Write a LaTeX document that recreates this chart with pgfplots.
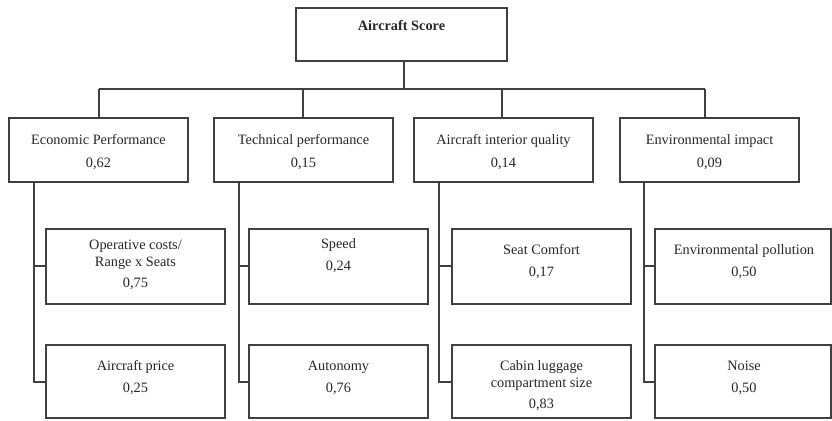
\documentclass[border=0pt]{standalone}
\usepackage{pgfplots}
\pgfplotsset{compat=1.18}
\usepackage{fontspec}
\setmainfont{Liberation Serif}
\begin{document}
\begin{tikzpicture}
\tikzset{bx/.style={draw=black!75, line width=0.9pt},
  t/.style={anchor=base, inner sep=0pt, font=\fontsize{7.15}{8.5}\selectfont, text=black!85}}
\begin{axis}[scale only axis, width=416pt, height=210pt,
  xmin=0, xmax=832, ymin=0, ymax=420, y dir=reverse, hide axis, clip=false]
\path (axis cs:0,0) rectangle (axis cs:832,420);
% top box
\draw[bx] (axis cs:296,8) rectangle (axis cs:507,61);
\node[t] at (axis cs:401.5,30) {\bfseries Aircraft Score};
% connectors from top
\draw[bx] (axis cs:404,61) -- (axis cs:404,89);
\draw[bx] (axis cs:99,89) -- (axis cs:705,89);
\draw[bx] (axis cs:99,89) -- (axis cs:99,118);
\draw[bx] (axis cs:303,89) -- (axis cs:303,118);
\draw[bx] (axis cs:502,89) -- (axis cs:502,118);
\draw[bx] (axis cs:705,89) -- (axis cs:705,118);
% level 2 boxes
\draw[bx] (axis cs:9,118) rectangle (axis cs:188,182);
\draw[bx] (axis cs:214,118) rectangle (axis cs:393,182);
\draw[bx] (axis cs:414,118) rectangle (axis cs:593,182);
\draw[bx] (axis cs:620,118) rectangle (axis cs:799,182);
\node[t] at (axis cs:98.5,144) {Economic Performance};
\node[t] at (axis cs:98.5,167) {0,62};
\node[t] at (axis cs:303.5,144) {Technical performance};
\node[t] at (axis cs:303.5,167) {0,15};
\node[t] at (axis cs:503.5,144) {Aircraft interior quality};
\node[t] at (axis cs:503.5,167) {0,14};
\node[t] at (axis cs:709.5,144) {Environmental impact};
\node[t] at (axis cs:709.5,167) {0,09};
% vertical connectors to level 3
\draw[bx] (axis cs:34,182) -- (axis cs:34,382) -- (axis cs:46,382);
\draw[bx] (axis cs:34,266) -- (axis cs:46,266);
\draw[bx] (axis cs:239,182) -- (axis cs:239,382) -- (axis cs:249,382);
\draw[bx] (axis cs:239,266) -- (axis cs:249,266);
\draw[bx] (axis cs:439,182) -- (axis cs:439,382) -- (axis cs:452,382);
\draw[bx] (axis cs:439,266) -- (axis cs:452,266);
\draw[bx] (axis cs:644,182) -- (axis cs:644,382) -- (axis cs:655,382);
\draw[bx] (axis cs:644,266) -- (axis cs:655,266);
% level 3 boxes
\draw[bx] (axis cs:46,229) rectangle (axis cs:225,304);
\draw[bx] (axis cs:249,229) rectangle (axis cs:428,304);
\draw[bx] (axis cs:452,229) rectangle (axis cs:631,304);
\draw[bx] (axis cs:655,229) rectangle (axis cs:831,304);
\draw[bx] (axis cs:46,345) rectangle (axis cs:225,418);
\draw[bx] (axis cs:249,345) rectangle (axis cs:428,418);
\draw[bx] (axis cs:452,345) rectangle (axis cs:631,418);
\draw[bx] (axis cs:655,345) rectangle (axis cs:831,418);
% level 3 texts
\node[t] at (axis cs:135.5,249) {Operative costs/};
\node[t] at (axis cs:135.5,266) {Range x Seats};
\node[t] at (axis cs:135.5,287) {0,75};
\node[t] at (axis cs:338.5,248) {Speed};
\node[t] at (axis cs:338.5,270) {0,24};
\node[t] at (axis cs:541.5,254) {Seat Comfort};
\node[t] at (axis cs:541.5,276) {0,17};
\node[t] at (axis cs:744,254) {Environmental pollution};
\node[t] at (axis cs:744,276) {0,50};
\node[t] at (axis cs:135.5,370) {Aircraft price};
\node[t] at (axis cs:135.5,392) {0,25};
\node[t] at (axis cs:338.5,370) {Autonomy};
\node[t] at (axis cs:338.5,392) {0,76};
\node[t] at (axis cs:541.5,370) {Cabin luggage};
\node[t] at (axis cs:541.5,387) {compartment size};
\node[t] at (axis cs:541.5,408) {0,83};
\node[t] at (axis cs:744,370) {Noise};
\node[t] at (axis cs:744,392) {0,50};
\end{axis}
\end{tikzpicture}
\end{document}
